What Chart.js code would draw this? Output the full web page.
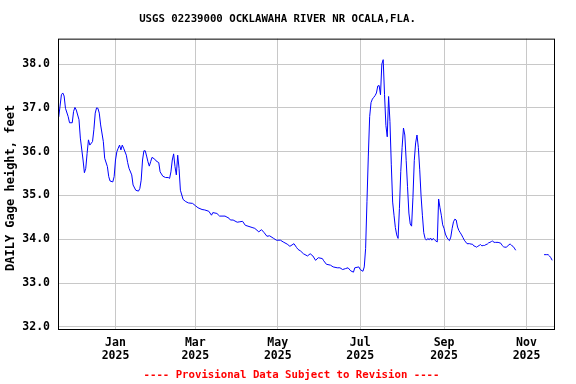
<!DOCTYPE html>
<html>
<head>
<meta charset="utf-8">
<script src="https://cdn.jsdelivr.net/npm/chart.js@4/dist/chart.umd.min.js"></script>
<style>
  html, body { margin: 0; padding: 0; background: #fff; }
</style>
</head>
<body>
<canvas id="gage-chart" width="576" height="384"></canvas>
<script>
// days counted from 2025-01-01 (negative = late 2024)
var days = [
  -42, -40, -39, -38, -37, -35, -34, -32, -31, -30, -29, -27, -26, -24, -23, -22, -21, -20, -19, -17,
  -16, -15, -14, -13, -12, -11, -9, -8, -6, -5, -4, -2, -1, 0, 1, 2, 3, 4, 5, 6,
  8, 9, 10, 12, 13, 15, 17, 18, 19, 20, 21, 22, 23, 24, 25, 26, 27, 29, 30, 32,
  33, 35, 37, 39, 40, 41, 42, 43, 44, 45, 46, 47, 48, 50, 52, 54, 57, 59, 61, 64,
  66, 69, 71, 72, 75, 77, 81, 84, 85, 87, 90, 92, 94, 96, 98, 101, 103, 106, 108, 110,
  112, 114, 117, 119, 122, 124, 127, 129, 132, 134, 135, 137, 139, 142, 144, 146, 148, 150, 153, 154,
  156, 159, 161, 164, 166, 168, 170, 172, 174, 176, 177, 180, 181, 183, 184, 185, 186, 187, 188, 189,
  190, 191, 192, 193, 194, 195, 196, 197, 198, 199, 200, 201, 202, 203, 204, 205, 206, 207, 208, 209,
  210, 211, 212, 213, 214, 215, 216, 217, 218, 219, 220, 221, 222, 223, 224, 225, 226, 227, 228, 229,
  230, 231, 232, 233, 234, 235, 236, 237, 238, 239, 240, 241, 242, 243, 244, 245, 246, 247, 248, 249,
  250, 251, 252, 253, 254, 255, 256, 257, 258, 259, 260, 262, 263, 264, 265, 266, 267, 268, 269, 270,
  271, 272, 273, 274, 275, 276, 277, 278, 279, 280, 281, 283, 285, 286, 287, 288, 289, 290, 291, 292,
  293, 294, 295, 296, 306, 317, 319, 320, 321, 322, 323
];

// daily gage height, feet (null = no data)
var gageHeight = [
  36.79, 37.30, 37.34, 37.27, 36.99, 36.80, 36.66, 36.66, 36.92, 37.01, 36.95, 36.73, 36.31, 35.81, 35.52, 35.62, 35.96, 36.27, 36.15, 36.23,
  36.50, 36.88, 37.00, 36.99, 36.88, 36.61, 36.23, 35.85, 35.66, 35.43, 35.33, 35.31, 35.43, 35.81, 36.00, 36.08, 36.15, 36.04, 36.15, 36.08,
  35.92, 35.75, 35.62, 35.47, 35.24, 35.12, 35.10, 35.16, 35.35, 35.81, 36.02, 36.02, 35.90, 35.77, 35.67, 35.77, 35.87, 35.83, 35.79, 35.75,
  35.54, 35.44, 35.41, 35.41, 35.39, 35.54, 35.81, 35.95, 35.66, 35.47, 35.92, 35.62, 35.12, 34.91, 34.86, 34.83, 34.82, 34.77, 34.72, 34.68,
  34.67, 34.64, 34.55, 34.61, 34.59, 34.53, 34.53, 34.48, 34.44, 34.44, 34.39, 34.40, 34.41, 34.32, 34.30, 34.27, 34.25, 34.17, 34.22, 34.15,
  34.07, 34.08, 34.02, 33.98, 33.98, 33.94, 33.89, 33.84, 33.90, 33.81, 33.77, 33.73, 33.67, 33.62, 33.67, 33.62, 33.52, 33.58, 33.56, 33.51,
  33.43, 33.41, 33.37, 33.35, 33.35, 33.31, 33.33, 33.35, 33.28, 33.25, 33.35, 33.37, 33.31, 33.27, 33.37, 33.79, 34.86, 35.90, 36.80, 37.12,
  37.20, 37.24, 37.28, 37.34, 37.50, 37.51, 37.30, 38.00, 38.10, 37.30, 36.60, 36.34, 37.26, 36.69, 35.70, 34.85, 34.55, 34.27, 34.10, 34.02,
  34.70, 35.55, 36.10, 36.54, 36.38, 35.80, 35.20, 34.60, 34.35, 34.30, 34.95, 35.80, 36.20, 36.38, 36.10, 35.60, 35.00, 34.55, 34.15, 34.02,
  33.98, 34.02, 33.99, 34.03, 33.98, 34.02, 33.99, 33.96, 33.94, 34.92, 34.72, 34.55, 34.33, 34.25, 34.12, 34.05, 34.00, 33.97, 34.05, 34.25,
  34.40, 34.46, 34.44, 34.28, 34.20, 34.15, 34.10, 34.04, 33.98, 33.94, 33.90, 33.90, 33.89, 33.89, 33.85, 33.84, 33.82, 33.84, 33.86, 33.88,
  33.85, 33.86, 33.86, 33.88, 33.89, 33.92, 33.93, 33.95, 33.96, 33.93, 33.93, 33.93, 33.91, 33.86, 33.83, 33.82, 33.82, 33.84, 33.88, 33.89,
  33.86, 33.84, 33.80, 33.75, null, 33.65, 33.65, 33.65, 33.62, 33.58, 33.52
];

var monthTicks = [0, 59, 120, 181, 243, 304];
var monthLabels = [['Jan', '2025'], ['Mar', '2025'], ['May', '2025'], ['Jul', '2025'], ['Sep', '2025'], ['Nov', '2025']];
var stageTicks = [32, 33, 34, 35, 36, 37, 38];

var points = days.map(function (d, i) {
  return {x: d, y: gageHeight[i]};
});

Chart.defaults.font.family = "'DejaVu Sans Mono', monospace";
Chart.defaults.font.size = 11;
Chart.defaults.font.weight = 'bold';
Chart.defaults.color = '#000';

// black box round the plot plus the red provisional note under the axis
var frameAndNote = {
  id: 'frameAndNote',
  afterDatasetsDraw: function (chart) {
    var a = chart.chartArea;
    var ctx = chart.ctx;
    ctx.save();
    ctx.strokeStyle = '#000';
    ctx.lineWidth = 1;
    ctx.strokeRect(a.left + 0.5, a.top + 0.5, a.right - a.left - 1, a.bottom - a.top - 1);
    ctx.fillStyle = '#ff0000';
    ctx.font = "bold 10.7px 'DejaVu Sans Mono', monospace";
    ctx.textAlign = 'center';
    ctx.textBaseline = 'middle';
    ctx.fillText('---- Provisional Data Subject to Revision ----', 291.5, 375);
    ctx.restore();
  }
};

var ctx = document.getElementById('gage-chart').getContext('2d');
var gageChart = new Chart(ctx, {
  type: 'line',
  data: {
    datasets: [{
      data: points,
      borderColor: '#0000ff',
      borderWidth: 1,
      pointRadius: 0,
      tension: 0,
      spanGaps: false
    }]
  },
  options: {
    responsive: false,
    animation: false,
    layout: {padding: {left: 0, right: 21, top: 0, bottom: 0}},
    plugins: {
      legend: {display: false},
      tooltip: {enabled: false},
      title: {
        display: true,
        text: 'USGS 02239000 OCKLAWAHA RIVER NR OCALA,FLA.',
        font: {size: 10.7, weight: 'bold'},
        color: '#000',
        padding: {top: 13, bottom: 12.8}
      }
    },
    scales: {
      x: {
        type: 'linear',
        min: -42.53,
        max: 325.08,
        afterBuildTicks: function (scale) {
          scale.ticks = monthTicks.map(function (v) { return {value: v}; });
        },
        afterFit: function (scale) { scale.height = 54; },
        ticks: {
          padding: 7,
          maxRotation: 0,
          autoSkip: false,
          font: {size: 11.5, lineHeight: 1.1},
          callback: function (value) {
            return monthLabels[monthTicks.indexOf(value)];
          }
        },
        grid: {color: '#c8c8c8', drawTicks: false},
        border: {display: false}
      },
      y: {
        min: 31.93,
        max: 38.58,
        afterBuildTicks: function (scale) {
          scale.ticks = stageTicks.map(function (v) { return {value: v}; });
        },
        afterFit: function (scale) { scale.width = 58; },
        ticks: {
          padding: 8,
          font: {size: 11.5},
          callback: function (value) { return value.toFixed(1); }
        },
        grid: {color: '#c8c8c8', drawTicks: false},
        border: {display: false},
        title: {
          display: true,
          text: 'DAILY Gage height, feet ',
          font: {size: 12, weight: 'bold'},
          padding: {top: 4, bottom: 0}
        }
      }
    }
  },
  plugins: [frameAndNote]
});
</script>
</body>
</html>
